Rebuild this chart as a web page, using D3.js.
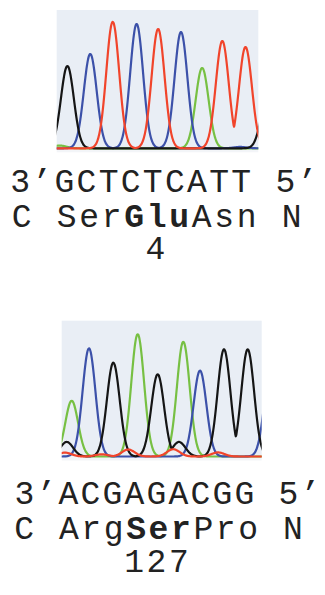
<!DOCTYPE html>
<html><head><meta charset="utf-8">
<script src="https://cdn.jsdelivr.net/npm/d3@7"></script>
<style>body{margin:0;background:#fff}svg{display:block}</style>
</head><body>
<script>
// ---------- data ----------
const bases1 = ["G","C","T","C","T","C","A","T","T"];
const peakPos1 = [10.6, 33.3, 55.6, 79.3, 100.6, 123.3, 144.3, 164.3, 187.3];
const peakHt1 = [833, 955, 1279, 1258, 1208, 1177, 813, 1086, 1025];
const minorBase1 = ["A", "G", "C"];
const minorPos1 = [3, 209, 182];
const minorHt1 = [28, 500, 14];
const residues1 = ["Ser", "Glu", "Asn"];
const mutIndex1 = 1;
const position1 = "4";

const bases2 = ["A","C","G","A","G","A","C","G","G"];
const peakPos2 = [10, 27.3, 51.6, 76, 96, 121.6, 138.3, 162.3, 186];
const peakHt2 = [574, 1115, 967, 1260, 847, 1183, 885, 1105, 1105];
const minorBase2 = ["G", "G", "T", "T", "T", "T", "T", "C"];
const minorPos2 = [5, 117.3, 3.3, 66.6, 111.6, 156.3, 40, 209];
const minorHt2 = [150, 150, 40, 72, 75, 42, 22, 900];
const residues2 = ["Arg", "Ser", "Pro"];
const mutIndex2 = 1;
const position2 = "127";

const channelOrder = ["A", "C", "G", "T"];
const channelColor = {A: "#77c043", C: "#3c51a9", G: "#151515", T: "#f1442b"};

// ---------- drawing ----------
const W = 325, H = 595;
const svg = d3.select("body").append("svg").attr("width", W).attr("height", H);

const panels = [
  {bases: bases1, pos: peakPos1, ht: peakHt1, mb: minorBase1, mp: minorPos1, mh: minorHt1,
   res: residues1, mut: mutIndex1, num: position1,
   x0: 56.7, x1: 258.3, top: 10, base: 148.3,
   t1: {x: 163.8, y: 191.5, pitch: 22.1}, t2: {x: 156.7, y: 226.5, pitch: 22.5}, t3: {x: 155.5, y: 259}},
  {bases: bases2, pos: peakPos2, ht: peakHt2, mb: minorBase2, mp: minorPos2, mh: minorHt2,
   res: residues2, mut: mutIndex2, num: position2,
   x0: 61.7, x1: 261.7, top: 320.7, base: 456.5,
   t1: {x: 167.4, y: 504, pitch: 22.0}, t2: {x: 158.5, y: 539, pitch: 22.4}, t3: {x: 156.5, y: 572}}
];

const sigma = 6.4;
const font = "'Liberation Mono','Courier New',Courier,monospace";
const fs = 33;
const textColor = "#222";

panels.forEach((p, pi) => {
  const x = d3.scaleLinear().domain([0, 200]).range([p.x0, p.x1]);
  const y = d3.scaleLinear().domain([0, 1400]).range([p.base, p.top]);

  const g = svg.append("g");
  g.append("rect").attr("x", p.x0).attr("y", p.top)
    .attr("width", p.x1 - p.x0).attr("height", p.base - p.top).attr("fill", "#e9eef5");
  g.append("rect").attr("x", p.x0).attr("y", p.base)
    .attr("width", p.x1 - p.x0).attr("height", 4).attr("fill", "#f3f5f8");

  const clipId = "clip" + pi;
  svg.append("clipPath").attr("id", clipId).append("rect")
    .attr("x", p.x0).attr("y", p.top - 2).attr("width", p.x1 - p.x0).attr("height", p.base - p.top + 4);

  const peaks = p.bases.map((b, i) => ({b, c: p.pos[i], h: p.ht[i]}))
    .concat(p.mb.map((b, i) => ({b, c: p.mp[i], h: p.mh[i]})));

  const xs = d3.range(-10, 221, 0.5);
  const line = d3.line().x(d => x(d[0])).y(d => y(d[1])).curve(d3.curveMonotoneX);

  channelOrder.forEach(ch => {
    const pk = peaks.filter(d => d.b === ch);
    const pts = xs.map(v => [v, d3.max(pk, d => d.h * Math.exp(-((v - d.c) ** 2) / (2 * sigma * sigma))) || 0]);
    g.append("path").attr("clip-path", `url(#${clipId})`)
      .attr("d", line(pts)).attr("fill", "none")
      .attr("stroke", channelColor[ch]).attr("stroke-width", 2.2)
      .attr("stroke-linejoin", "round");
  });

  const ls1 = p.t1.pitch - 0.6 * fs;
  const ls2 = p.t2.pitch - 0.6 * fs;

  // sequence text
  g.append("text").attr("x", p.t1.x + ls1 / 2).attr("y", p.t1.y).attr("text-anchor", "middle")
    .attr("font-family", font).attr("font-size", fs).attr("fill", textColor)
    .attr("letter-spacing", ls1)
    .text("3\u2019" + p.bases.join("") + " 5\u2019");

  const t2 = g.append("text").attr("x", p.t2.x + ls2 / 2).attr("y", p.t2.y).attr("text-anchor", "middle")
    .attr("font-family", font).attr("font-size", fs).attr("fill", textColor)
    .attr("letter-spacing", ls2).style("white-space", "pre");
  t2.append("tspan").text("C ");
  p.res.forEach((r, i) => {
    t2.append("tspan").attr("font-weight", i === p.mut ? "bold" : "normal").text(r);
  });
  t2.append("tspan").text(" N");

  g.append("text").attr("x", p.t3.x + ls2 / 2).attr("y", p.t3.y).attr("text-anchor", "middle")
    .attr("font-family", font).attr("font-size", fs).attr("fill", textColor)
    .attr("letter-spacing", ls2)
    .text(p.num);
});
</script>
</body></html>
